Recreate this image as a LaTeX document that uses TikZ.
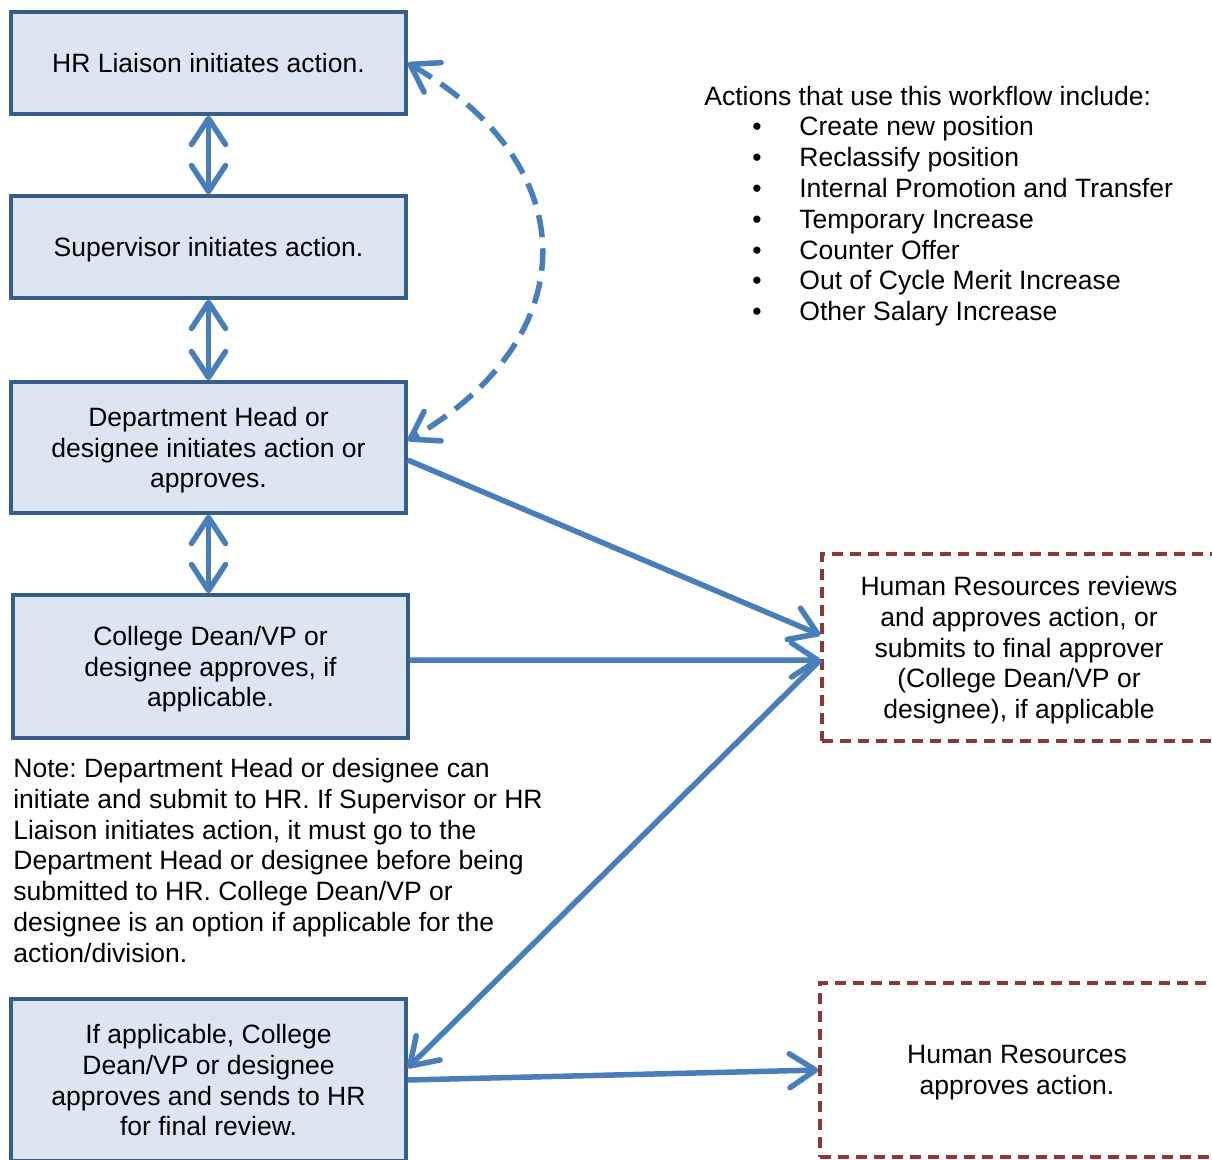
\documentclass[tikz,border=0pt]{standalone}
\usepackage{fontspec}
\setmainfont{Liberation Sans}
\frenchspacing
\usetikzlibrary{arrows.meta}
\definecolor{boxfill}{HTML}{DCE6F2}
\definecolor{boxline}{HTML}{385D8A}
\definecolor{flowblue}{HTML}{4A7EBB}
\definecolor{hrred}{HTML}{8C3836}
\begin{document}
\begin{tikzpicture}[x=0.02cm, y=0.02cm, font=\fontsize{15.1}{17.5}\selectfont,
  >={Straight Barb[length=0.52cm,width=0.68cm,round]}]
\tikzstyle{stage}=[draw=boxline, fill=boxfill, line width=0.07cm, minimum width=7.9cm, align=center, inner sep=0pt, text depth=0pt]
\tikzstyle{hrstage}=[draw=hrred, line width=0.07cm, dash pattern=on 0.22cm off 0.14cm, minimum width=7.88cm, align=center, inner sep=0pt, text depth=0pt]
\tikzstyle{flow}=[draw=flowblue, line width=0.11cm]
\tikzstyle{txt}=[draw=none, fill=none, inner sep=0pt]
\useasboundingbox (0,0) rectangle (1212,-1159);

\node[stage, minimum height=2.04cm] (hr) at (208.5,-63) {HR Liaison initiates action.};
\node[stage, minimum height=2.04cm] (sup) at (208.5,-247) {Supervisor initiates action.};
\node[stage, minimum height=2.62cm] (dept) at (208.5,-447.5) {Department Head or\\designee initiates action or\\approves.};
\node[stage, minimum height=2.86cm] (dean) at (210.5,-666.5) {College Dean/VP or\\designee approves, if\\applicable.};
\node[stage, minimum height=3.24cm] (final) at (208.5,-1080) {If applicable, College\\Dean/VP or designee\\approves and sends to HR\\for final review.};

\node[hrstage, minimum height=3.74cm] (hrrev) at (1019,-647.5) {Human Resources reviews\\and approves action, or\\submits to final approver\\(College Dean/VP or\\designee), if applicable};
\node[hrstage, minimum height=3.48cm] (hrok) at (1017,-1070) {Human Resources\\approves action.};

\node[txt, anchor=base west, align=left] (note) at (13,-962) {Note: Department Head or designee can\\initiate and submit to HR. If Supervisor or HR\\Liaison initiates action, it must go to the\\Department Head or designee before being\\submitted to HR. College Dean/VP or\\designee is an option if applicable for the\\action/division.};

\node[txt, anchor=base west] (acts) at (704,-105) {Actions that use this workflow include:};
\foreach \act [count=\i] in {Create new position, Reclassify position, Internal Promotion and Transfer, Temporary Increase, Counter Offer, Out of Cycle Merit Increase, Other Salary Increase} {
  \node[txt, anchor=base] (bul\i) at (757,-105-30.8*\i) {\textbullet};
  \node[txt, anchor=base west] (act\i) at (799,-105-30.8*\i) {\act};
}

\draw[flow, <->] (hr.south) -- (sup.north);
\draw[flow, <->] (sup.south) -- (dept.north);
\draw[flow, <->] (dept.south) -- (dept.south |- dean.north);
\draw[flow, <->, dash pattern=on 0.45cm off 0.22cm] (hr.east) to[out=-30, in=30, looseness=1.4] ([yshift=0.14cm]dept.east);
\draw[flow, ->] ([yshift=-0.25cm]dept.east) -- ([yshift=0.25cm]hrrev.west);
\draw[flow, ->] ([yshift=0.13cm]dean.east) -- ([yshift=-0.25cm]hrrev.west);
\draw[flow, ->] ([yshift=-0.25cm]hrrev.west) -- ([yshift=0.24cm]final.east);
\draw[flow, ->] (final.east) -- (hrok.west);
\end{tikzpicture}
\end{document}
